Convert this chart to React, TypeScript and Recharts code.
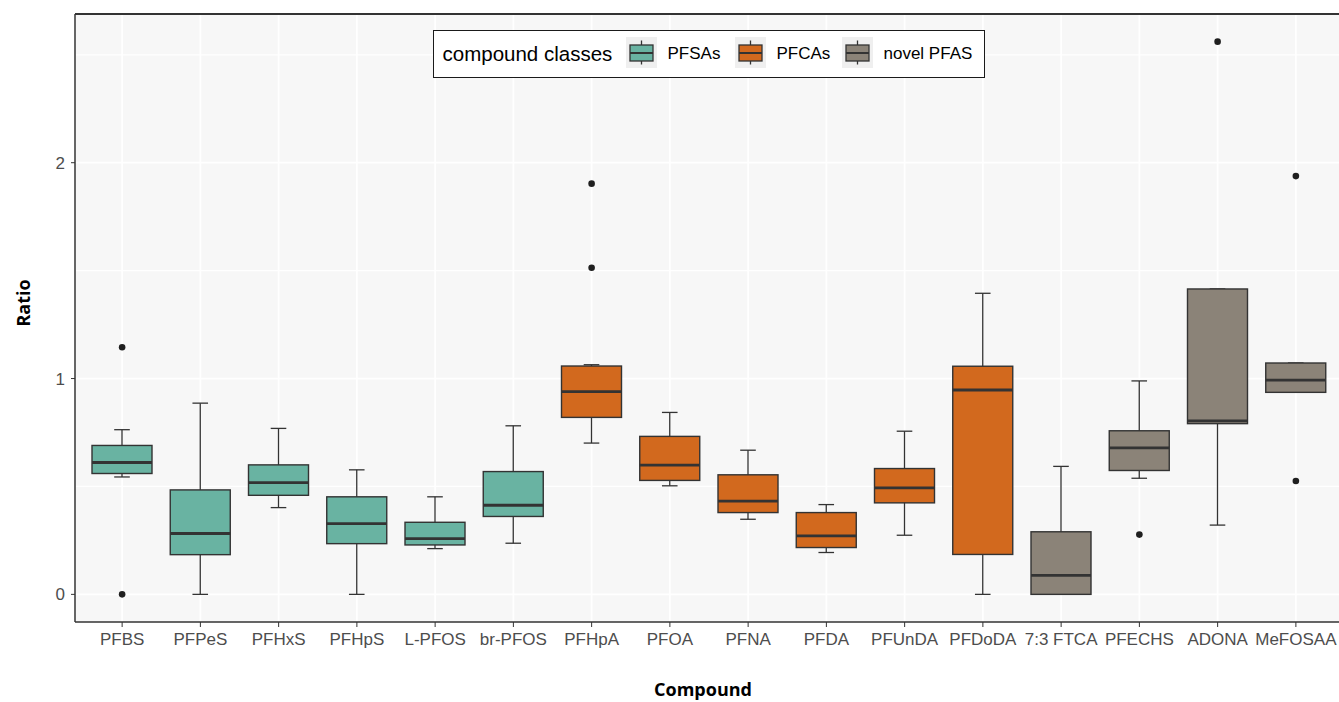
import {
  ComposedChart,
  Bar,
  Scatter,
  XAxis,
  YAxis,
  CartesianGrid,
  ReferenceLine,
} from "recharts";

const compounds = [
  "PFBS", "PFPeS", "PFHxS", "PFHpS", "L-PFOS", "br-PFOS",
  "PFHpA", "PFOA", "PFNA", "PFDA", "PFUnDA", "PFDoDA",
  "7:3 FTCA", "PFECHS", "ADONA", "MeFOSAA",
];
const compoundClass = [
  "PFSAs", "PFSAs", "PFSAs", "PFSAs", "PFSAs", "PFSAs",
  "PFCAs", "PFCAs", "PFCAs", "PFCAs", "PFCAs", "PFCAs",
  "novel PFAS", "novel PFAS", "novel PFAS", "novel PFAS",
];
const classNames = ["PFSAs", "PFCAs", "novel PFAS"];
const classColors = ["#69b3a2", "#d2691e", "#8b8378"];

const lowerWhisker = [0.544, 0, 0.402, 0, 0.212, 0.237, 0.701, 0.503, 0.348, 0.194, 0.274, 0, 0, 0.538, 0.321, 0.936];
const q1 = [0.56, 0.184, 0.459, 0.235, 0.229, 0.361, 0.82, 0.528, 0.379, 0.217, 0.424, 0.185, 0, 0.574, 0.791, 0.936];
const median = [0.611, 0.282, 0.518, 0.328, 0.258, 0.413, 0.939, 0.599, 0.432, 0.271, 0.493, 0.947, 0.088, 0.679, 0.804, 0.993];
const q3 = [0.69, 0.484, 0.6, 0.452, 0.334, 0.569, 1.058, 0.732, 0.554, 0.379, 0.583, 1.057, 0.29, 0.758, 1.415, 1.072];
const upperWhisker = [0.763, 0.886, 0.769, 0.577, 0.452, 0.781, 1.064, 0.843, 0.668, 0.416, 0.756, 1.395, 0.593, 0.989, 1.415, 1.072];

const outlierCompounds = ["PFBS", "PFBS", "PFHpA", "PFHpA", "PFECHS", "ADONA", "MeFOSAA", "MeFOSAA"];
const outlierValues = [1.145, 0, 1.903, 1.513, 0.277, 2.561, 1.938, 0.525];

const yTicks = [0, 1, 2];
const yMinor = [0.5, 1.5, 2.5];
const Y_MIN = -0.128;
const Y_MAX = 2.689;

const data = compounds.map((name, i) => {
  const outs = outlierValues.filter((_, j) => outlierCompounds[j] === name);
  return {
    name,
    cls: compoundClass[i],
    whisker: [lowerWhisker[i], upperWhisker[i]],
    q1: q1[i],
    median: median[i],
    q3: q3[i],
    out1: outs.length > 0 ? outs[0] : null,
    out2: outs.length > 1 ? outs[1] : null,
  };
});

const INK = "#333333";
const tickFont = { fontFamily: "'Liberation Sans', Arial, sans-serif", fontSize: 17, fill: "#4d4d4d" };

function BoxShape(props: any) {
  const { x, y, width, height, payload } = props;
  const [lo, hi] = payload.whisker;
  const top = Math.min(y, y + height);
  const bottom = Math.max(y, y + height);
  const toY = (v: number) => top + ((hi - v) / (hi - lo)) * (bottom - top);
  const cx = x + width / 2;
  const cap = 7.8;
  const color = classColors[classNames.indexOf(payload.cls)];
  return (
    <g>
      <line x1={cx} x2={cx} y1={toY(hi)} y2={toY(lo)} stroke={INK} strokeWidth={1.3} />
      <line x1={cx - cap} x2={cx + cap} y1={toY(hi)} y2={toY(hi)} stroke={INK} strokeWidth={1.3} />
      <line x1={cx - cap} x2={cx + cap} y1={toY(lo)} y2={toY(lo)} stroke={INK} strokeWidth={1.3} />
      <rect
        x={x}
        y={toY(payload.q3)}
        width={width}
        height={toY(payload.q1) - toY(payload.q3)}
        fill={color}
        stroke={INK}
        strokeWidth={1.4}
      />
      <line x1={x} x2={x + width} y1={toY(payload.median)} y2={toY(payload.median)} stroke={INK} strokeWidth={2.8} />
    </g>
  );
}

const outlierDot = (key: "out1" | "out2") => (props: any) => {
  if (props.payload == null || props.payload[key] == null) return <g />;
  return <circle cx={props.cx} cy={props.cy} r={3.3} fill="#1f1f1f" />;
};

function LegendKey({ color }: { color: string }) {
  return (
    <svg width={31} height={31} style={{ display: "block" }}>
      <rect x={0} y={0} width={31} height={31} fill="#efefef" />
      <line x1={15.5} x2={15.5} y1={3.5} y2={27.5} stroke={INK} strokeWidth={1.3} />
      <rect x={4} y={8} width={23} height={16} fill={color} stroke={INK} strokeWidth={1.3} />
      <line x1={4} x2={27} y1={16} y2={16} stroke={INK} strokeWidth={2} />
    </svg>
  );
}

const keyLeft = [191.5, 300.5, 407.5];
const labelLeft = [233.5, 342.5, 449.5];

export default function App() {
  return (
    <div
      style={{
        position: "absolute",
        left: 0,
        top: 0,
        width: 1339,
        height: 702,
        overflow: "hidden",
        background: "#ffffff",
      }}
    >
      <ComposedChart
        width={1345}
        height={702}
        data={data}
        margin={{ top: 14, right: 2, bottom: 0, left: 0 }}
      >
        <CartesianGrid
          horizontalValues={yMinor}
          vertical={false}
          stroke="#ffffff"
          strokeWidth={1.2}
          fill="#f7f7f7"
          fillOpacity={1}
        />
        <CartesianGrid horizontalValues={yTicks} stroke="#ffffff" strokeWidth={1.8} />
        <XAxis
          dataKey="name"
          type="category"
          interval={0}
          padding={{ left: 8, right: 8 }}
          height={80}
          tick={tickFont}
          tickSize={5}
          tickMargin={6}
          tickLine={{ stroke: INK }}
          axisLine={{ stroke: INK, strokeWidth: 1.5 }}
          label={{
            content: ({ viewBox }: any) => (
              <text
                x={viewBox.x + viewBox.width / 2 - 6}
                y={viewBox.y + 74}
                textAnchor="middle"
                fontFamily="'Open Sans', sans-serif"
                fontWeight="bold"
                fontSize={18}
                fill="#000"
              >
                Compound
              </text>
            ),
          }}
        />
        <YAxis
          type="number"
          domain={[Y_MIN, Y_MAX]}
          ticks={yTicks}
          allowDataOverflow
          width={75}
          tick={tickFont}
          tickSize={4}
          tickMargin={6}
          tickLine={{ stroke: INK }}
          axisLine={{ stroke: INK, strokeWidth: 1.5 }}
          label={{
            content: ({ viewBox }: any) => (
              <text
                x={viewBox.x + 22.5}
                y={viewBox.y + viewBox.height / 2 - 15}
                textAnchor="middle"
                dominantBaseline="central"
                transform={`rotate(-90 ${viewBox.x + 22.5} ${viewBox.y + viewBox.height / 2 - 15})`}
                fontFamily="'Open Sans', sans-serif"
                fontWeight="bold"
                fontSize={18}
                fill="#000"
              >
                Ratio
              </text>
            ),
          }}
        />
        <ReferenceLine y={Y_MAX} stroke={INK} strokeWidth={2} />
        <Bar dataKey="whisker" barSize={60} isAnimationActive={false} shape={(p: any) => <BoxShape {...p} />} />
        <Scatter dataKey="out1" isAnimationActive={false} shape={outlierDot("out1")} />
        <Scatter dataKey="out2" isAnimationActive={false} shape={outlierDot("out2")} />
      </ComposedChart>
      <div
        style={{
          position: "absolute",
          left: 433,
          top: 30,
          width: 552,
          height: 48,
          boxSizing: "border-box",
          border: "1.5px solid #1a1a1a",
          background: "#ffffff",
          fontFamily: "'Liberation Sans', Arial, sans-serif",
          color: "#000",
        }}
      >
        <span
          style={{ position: "absolute", left: 8.5, top: 0, height: 45, lineHeight: "45px", fontSize: 20.5 }}
        >
          compound classes
        </span>
        {classNames.map((c, i) => (
          <div key={c}>
            <div style={{ position: "absolute", left: keyLeft[i], top: 5.5 }}>
              <LegendKey color={classColors[i]} />
            </div>
            <span
              style={{
                position: "absolute",
                left: labelLeft[i],
                top: 0,
                height: 45,
                lineHeight: "45px",
                fontSize: 17,
                whiteSpace: "nowrap",
              }}
            >
              {c}
            </span>
          </div>
        ))}
      </div>
    </div>
  );
}
